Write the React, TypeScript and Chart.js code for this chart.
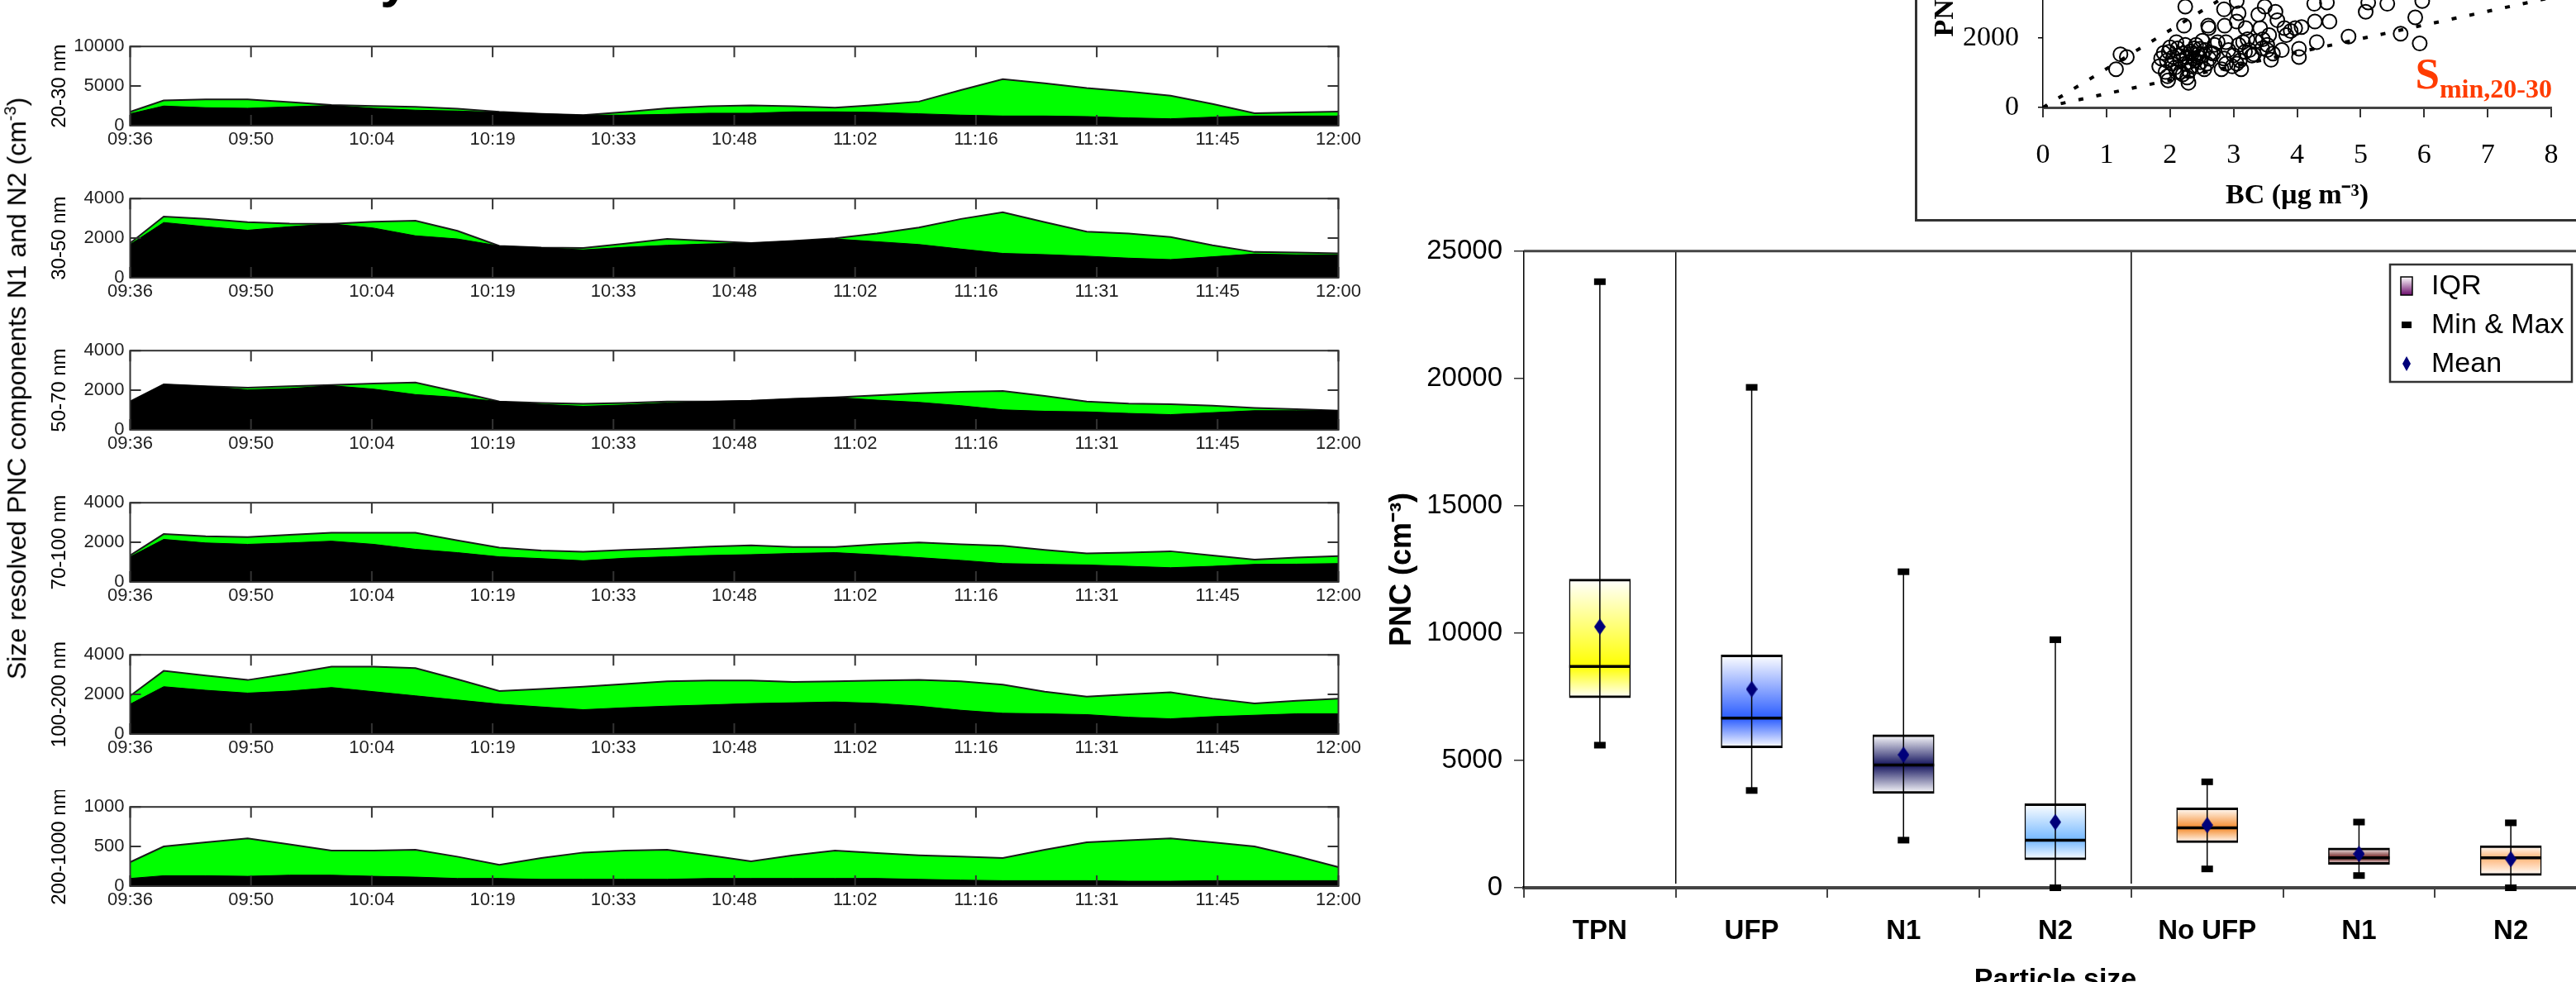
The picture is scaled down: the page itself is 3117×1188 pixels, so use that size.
import React, { useEffect, useRef } from 'react';
import { Chart, registerables } from 'chart.js';

Chart.register(...registerables);
Chart.defaults.font.family = "'Liberation Sans', Arial, sans-serif";
Chart.defaults.color = '#000';

// ---------------- Left panels: size-resolved PNC time series ----------------
// minutes after 09:36
const TIME_MIN = [0, 4, 9, 14, 19, 24, 29, 34, 39, 44, 49, 54, 59, 64, 69, 74, 79, 84, 89, 94, 99, 104, 109, 114, 119, 124, 129, 134, 139, 144];
const X_TICK_LABELS = ['09:36', '09:50', '10:04', '10:19', '10:33', '10:48', '11:02', '11:16', '11:31', '11:45', '12:00'];
const X_TICK_STEP_MIN = 14.4;

const PANEL_LABELS = ['20-30 nm', '30-50 nm', '50-70 nm', '70-100 nm', '100-200 nm', '200-1000 nm'];
const PANEL_YMAX = [10000, 4000, 4000, 4000, 4000, 1000];

// black area = N1 ; green area top = N1 + N2
const N1_20_30 = [1500, 2480, 2270, 2200, 2380, 2550, 2200, 1960, 1850, 1680, 1500, 1330, 1330, 1430, 1570, 1570, 1750, 1750, 1680, 1500, 1330, 1220, 1220, 1150, 980, 870, 1080, 1220, 1220, 1220];
const TOTAL_20_30 = [1750, 3180, 3320, 3320, 2970, 2620, 2480, 2380, 2130, 1750, 1500, 1330, 1710, 2200, 2450, 2550, 2450, 2270, 2620, 3040, 4480, 5870, 5350, 4760, 4300, 3780, 2730, 1570, 1680, 1780];

const N1_30_50 = [1680, 2790, 2580, 2400, 2580, 2720, 2510, 2120, 1960, 1610, 1520, 1410, 1540, 1640, 1710, 1750, 1860, 1960, 1820, 1680, 1450, 1230, 1170, 1090, 990, 920, 1060, 1200, 1160, 1160];
const TOTAL_30_50 = [1750, 3090, 2970, 2810, 2740, 2720, 2830, 2880, 2370, 1610, 1520, 1500, 1720, 1960, 1860, 1750, 1860, 1990, 2230, 2540, 2970, 3310, 2810, 2330, 2230, 2060, 1640, 1300, 1270, 1230];

const N1_50_70 = [1430, 2300, 2200, 2020, 2090, 2230, 2060, 1780, 1640, 1430, 1290, 1190, 1260, 1360, 1430, 1470, 1570, 1640, 1500, 1390, 1220, 1010, 940, 910, 830, 770, 870, 970, 970, 970];
const TOTAL_50_70 = [1430, 2300, 2200, 2130, 2200, 2270, 2340, 2390, 1920, 1430, 1360, 1320, 1360, 1430, 1430, 1470, 1570, 1640, 1740, 1850, 1920, 1960, 1710, 1430, 1330, 1290, 1220, 1110, 1040, 970];

const N1_70_100 = [1270, 2150, 1970, 1900, 1970, 2060, 1900, 1650, 1480, 1270, 1180, 1070, 1200, 1270, 1340, 1380, 1440, 1480, 1370, 1230, 1090, 930, 890, 860, 790, 720, 790, 890, 900, 930];
const TOTAL_70_100 = [1340, 2420, 2310, 2270, 2380, 2480, 2480, 2480, 2100, 1730, 1590, 1520, 1620, 1690, 1790, 1850, 1760, 1760, 1900, 1990, 1900, 1830, 1620, 1440, 1480, 1550, 1340, 1130, 1230, 1300];

const N1_100_200 = [1510, 2390, 2210, 2070, 2170, 2350, 2140, 1930, 1720, 1510, 1370, 1230, 1330, 1410, 1470, 1540, 1580, 1620, 1550, 1410, 1200, 1050, 1020, 980, 850, 770, 880, 950, 1020, 1020];
const TOTAL_100_200 = [1930, 3190, 2950, 2730, 3050, 3400, 3400, 3330, 2770, 2170, 2280, 2390, 2530, 2660, 2700, 2700, 2630, 2660, 2700, 2740, 2660, 2490, 2140, 1890, 2000, 2110, 1790, 1550, 1680, 1790];

const N1_200_1000 = [97, 131, 131, 124, 138, 138, 124, 114, 97, 97, 86, 86, 86, 86, 97, 97, 97, 97, 97, 86, 76, 69, 69, 69, 62, 62, 69, 69, 69, 69];
const TOTAL_200_1000 = [303, 500, 552, 603, 528, 448, 448, 459, 372, 269, 355, 424, 448, 459, 390, 314, 390, 448, 417, 390, 372, 355, 459, 552, 579, 603, 552, 500, 379, 241];

const PANEL_N1 = [N1_20_30, N1_30_50, N1_50_70, N1_70_100, N1_100_200, N1_200_1000];
const PANEL_TOTAL = [TOTAL_20_30, TOTAL_30_50, TOTAL_50_70, TOTAL_70_100, TOTAL_100_200, TOTAL_200_1000];

// ---------------- Box plot ----------------
const BOX_CATEGORIES = ['TPN', 'UFP', 'N1', 'N2', 'No UFP', 'N1', 'N2'];
const BOX_MIN = [5600, 3820, 1870, 0, 740, 480, 0];
const BOX_Q1 = [7460, 5500, 3700, 1100, 1770, 920, 480];
const BOX_MEDIAN = [8690, 6660, 4820, 1870, 2350, 1180, 1180];
const BOX_Q3 = [12120, 9140, 6010, 3300, 3140, 1560, 1650];
const BOX_MAX = [23800, 19650, 12410, 9740, 4160, 2580, 2550];
const BOX_MEAN = [10250, 7800, 5220, 2580, 2460, 1330, 1120];
const BOX_COLORS = ['#ffff00', '#2a5cff', '#14145e', '#74b8ff', '#f58a2a', '#6b1818', '#ffb476'];
const BOX_SEPARATOR_AFTER = [0, 3];
const BOX_LEGEND_LABELS = ['IQR', 'Min & Max', 'Mean'];

// ---------------- Scatter inset ----------------
const SCATTER_BC = [1.15, 1.22, 1.32, 2.24, 2.22, 1.90, 1.86, 1.83, 1.93, 1.97, 2.00, 2.03, 2.14, 2.17, 2.24, 2.27, 2.29, 2.32, 2.37, 2.41, 2.44, 2.47, 2.51, 2.58, 2.61, 2.60, 2.64, 2.75, 2.85, 2.86, 2.88, 2.85, 2.88, 3.05, 3.08, 3.05, 3.08, 3.05, 3.15, 3.19, 3.22, 3.29, 3.32, 3.39, 3.42, 3.46, 3.49, 3.53, 3.56, 3.59, 3.66, 3.69, 3.76, 3.80, 3.83, 3.90, 3.97, 4.03, 4.03, 4.07, 4.27, 4.31, 4.28, 4.47, 4.51, 4.81, 5.08, 5.12, 5.42, 5.63, 5.86, 5.93, 5.97, 2.10, 2.34, 2.44, 2.54, 2.24, 2.51, 2.81, 3.12, 2.98, 3.25, 3.53, 2.10,
  1.95, 1.98, 2.05, 2.08, 2.12, 2.16, 2.20, 2.26, 2.30, 2.35, 2.38, 2.40, 2.45, 2.48, 2.55, 2.62, 2.68, 2.70, 2.92, 3.00, 3.10, 3.18, 3.35, 3.45, 3.62, 1.96, 2.20, 2.30];
const SCATTER_PNC = [1100, 1530, 1450, 2900, 2350, 1570, 1410, 1180, 1020, 780, 1730, 1260, 1490, 1020, 1800, 860, 710, 1610, 1410, 1800, 1180, 1690, 1490, 1260, 2280, 2350, 1570, 1880, 2820, 2350, 1880, 1410, 1260, 3060, 2710, 2470, 1800, 1260, 1880, 2280, 1960, 1490, 1530, 2670, 2280, 1960, 2900, 1800, 2080, 1370, 2750, 2510, 1650, 2280, 2080, 2200, 2280, 1690, 1450, 2310, 2980, 1880, 2470, 3020, 2470, 2040, 2750, 3020, 2980, 2120, 2590, 1840, 3060, 1880, 1180, 1530, 1100, 1260, 1920, 1100, 1100, 1180, 1650, 1650, 1020,
  1350, 1600, 1450, 1150, 1700, 1350, 1550, 1450, 1300, 1550, 1700, 1350, 1450, 1300, 1650, 1400, 1550, 1800, 1650, 1500, 1350, 1600, 1900, 1700, 1550, 900, 950, 1050];
const UPPER_LINE_BC = [0, 7.2];
const UPPER_LINE_PNC = [0, 8000];
const LOWER_LINE_BC = [0, 8];
const LOWER_LINE_PNC = [0, 3160];
const S_LABEL_POS = { bc: 5.86, pnc: 540 };

// ---------------- layout ----------------
const PANEL_TOP = [56, 240, 424, 608, 792, 976];
const PANEL_CANVAS_W = 1665;
const PANEL_PAD_TOP = 20;
const PANEL_PLOT_H = 96;
const PANEL_XAXIS_H = 50;
const PANEL_LEFT_W = 157.5;

const BOX_LEFT = 1590;
const BOX_TOP = 270;
const BOX_W = 1560;
const BOX_H = 960;

const SC_LEFT = 2317;
const SC_TOP = -250;
const SC_W = 820;
const SC_H = 518;

const panelFramePlugin = {
  id: 'panelFrame',
  afterDatasetsDraw(chart: any) {
    const { ctx, chartArea: a, scales } = chart;
    const x = scales.x;
    const y = scales.y;
    ctx.save();
    ctx.strokeStyle = '#333';
    ctx.lineWidth = 2;
    ctx.beginPath();
    x.ticks.forEach((t: any) => {
      const px = x.getPixelForValue(t.value);
      ctx.moveTo(px, a.top);
      ctx.lineTo(px, a.top + 13);
      ctx.moveTo(px, a.bottom);
      ctx.lineTo(px, a.bottom - 13);
    });
    y.ticks.forEach((t: any) => {
      const py = y.getPixelForValue(t.value);
      ctx.moveTo(a.left, py);
      ctx.lineTo(a.left + 13, py);
      ctx.moveTo(a.right, py);
      ctx.lineTo(a.right - 13, py);
    });
    ctx.stroke();
    ctx.strokeRect(a.left, a.top, a.right - a.left, a.bottom - a.top);
    ctx.restore();
  },
};

function makePanel(canvas: HTMLCanvasElement, i: number) {
  const ymax = PANEL_YMAX[i];
  return new Chart(canvas, {
    type: 'line',
    data: {
      datasets: [
        {
          label: 'N1',
          data: TIME_MIN.map((t, k) => ({ x: t, y: PANEL_N1[i][k] })),
          fill: 'origin',
          backgroundColor: '#000000',
          borderColor: '#000000',
          borderWidth: 1,
          pointRadius: 0,
          order: 0,
        },
        {
          label: 'N1 + N2',
          data: TIME_MIN.map((t, k) => ({ x: t, y: PANEL_TOTAL[i][k] })),
          fill: 'origin',
          backgroundColor: '#00ff00',
          borderColor: '#1a1a1a',
          borderWidth: 2,
          pointRadius: 0,
          order: 1,
        },
      ],
    },
    options: {
      responsive: false,
      animation: false,
      events: [],
      devicePixelRatio: 1,
      layout: { padding: { top: PANEL_PAD_TOP, left: 0, right: PANEL_CANVAS_W - 1619.5, bottom: 0 } },
      plugins: { legend: { display: false }, tooltip: { enabled: false } },
      scales: {
        x: {
          type: 'linear',
          min: 0,
          max: 144,
          afterBuildTicks: (s: any) => {
            s.ticks = X_TICK_LABELS.map((_, k) => ({ value: k * X_TICK_STEP_MIN }));
          },
          ticks: {
            callback: (_v: any, idx: number) => X_TICK_LABELS[idx],
            font: { size: 22 },
            color: '#222',
            padding: 4,
            maxRotation: 0,
            autoSkip: false,
          },
          grid: { display: false, drawTicks: false },
          border: { display: false },
          afterFit: (s: any) => { s.height = PANEL_XAXIS_H; },
        },
        y: {
          min: 0,
          max: ymax,
          afterBuildTicks: (s: any) => {
            s.ticks = [0, ymax / 2, ymax].map((v) => ({ value: v }));
          },
          ticks: { callback: (v: any) => String(v), font: { size: 22 }, color: '#222', padding: 7 },
          grid: { display: false, drawTicks: false },
          border: { display: false },
          title: {
            display: true,
            text: PANEL_LABELS[i],
            font: { size: 24 },
            color: '#000',
            padding: { top: 58, bottom: 0 },
          },
          afterFit: (s: any) => { s.width = PANEL_LEFT_W; },
        },
      },
    } as any,
    plugins: [panelFramePlugin],
  });
}

function makeDiamond(w: number, h: number, color: string) {
  const c = document.createElement('canvas');
  c.width = w;
  c.height = h;
  const g = c.getContext('2d')!;
  g.fillStyle = color;
  g.beginPath();
  g.moveTo(w / 2, 0);
  g.lineTo(w, h / 2);
  g.lineTo(w / 2, h);
  g.lineTo(0, h / 2);
  g.closePath();
  g.fill();
  return c;
}

const boxDetailPlugin = {
  id: 'boxDetail',
  beforeDatasetsDraw(chart: any) {
    const { ctx, chartArea: a, scales } = chart;
    const x = scales.x;
    ctx.save();
    ctx.strokeStyle = '#000';
    ctx.lineWidth = 1.5;
    ctx.beginPath();
    BOX_SEPARATOR_AFTER.forEach((k) => {
      const px = (x.getPixelForValue(k) + x.getPixelForValue(k + 1)) / 2;
      ctx.moveTo(px, a.top);
      ctx.lineTo(px, a.bottom - 5);
    });
    ctx.stroke();
    ctx.strokeStyle = '#444';
    ctx.lineWidth = 3;
    ctx.beginPath();
    ctx.moveTo(a.left, a.top);
    ctx.lineTo(a.right, a.top);
    ctx.stroke();
    ctx.restore();
  },
  afterDatasetDraw(chart: any, args: any) {
    if (args.index !== 0) return;
    const { ctx, scales } = chart;
    const x = scales.x;
    const y = scales.y;
    ctx.save();
    ctx.strokeStyle = '#000';
    BOX_CATEGORIES.forEach((_, i) => {
      const px = x.getPixelForValue(i);
      ctx.lineWidth = 1.5;
      ctx.beginPath();
      ctx.moveTo(px, y.getPixelForValue(BOX_MIN[i]));
      ctx.lineTo(px, y.getPixelForValue(BOX_MAX[i]));
      ctx.stroke();
      const pm = y.getPixelForValue(BOX_MEDIAN[i]);
      ctx.lineWidth = 3.5;
      ctx.beginPath();
      ctx.moveTo(px - 37, pm);
      ctx.lineTo(px + 37, pm);
      ctx.stroke();
    });
    ctx.restore();
  },
  afterDraw(chart: any) {
    const { ctx } = chart;
    const lx = 1302;
    const ly = 50;
    const lw = 220;
    const lh = 142;
    ctx.save();
    ctx.fillStyle = '#fff';
    ctx.fillRect(lx, ly, lw, lh);
    ctx.strokeStyle = '#333';
    ctx.lineWidth = 2.5;
    ctx.strokeRect(lx, ly, lw, lh);
    const rows = [ly + 26, ly + 73, ly + 120];
    const ix = lx + 20;
    // IQR icon
    const g = ctx.createLinearGradient(0, rows[0] - 11, 0, rows[0] + 11);
    g.addColorStop(0, '#ffffff');
    g.addColorStop(1, '#6a0a6a');
    ctx.fillStyle = g;
    ctx.fillRect(ix - 7, rows[0] - 11, 14, 22);
    ctx.lineWidth = 1.5;
    ctx.strokeStyle = '#000';
    ctx.strokeRect(ix - 7, rows[0] - 11, 14, 22);
    // min & max icon
    ctx.fillStyle = '#000';
    ctx.fillRect(ix - 6, rows[1] - 4, 12, 8);
    // mean icon
    ctx.fillStyle = '#00007a';
    ctx.beginPath();
    ctx.moveTo(ix, rows[2] - 9);
    ctx.lineTo(ix + 5, rows[2]);
    ctx.lineTo(ix, rows[2] + 9);
    ctx.lineTo(ix - 5, rows[2]);
    ctx.closePath();
    ctx.fill();
    ctx.fillStyle = '#000';
    ctx.font = "34px 'Liberation Sans', Arial, sans-serif";
    ctx.textBaseline = 'middle';
    ctx.textAlign = 'left';
    BOX_LEGEND_LABELS.forEach((t, k) => ctx.fillText(t, lx + 50, rows[k] + 1));
    ctx.restore();
  },
};

function makeBox(canvas: HTMLCanvasElement) {
  const diamond = makeDiamond(14, 20, '#00007a');
  return new Chart(canvas, {
    type: 'bar',
    data: {
      labels: BOX_CATEGORIES,
      datasets: [
        {
          type: 'bar',
          label: 'IQR',
          data: BOX_Q1.map((q, i) => [q, BOX_Q3[i]]),
          backgroundColor: (ctx: any) => {
            const i = ctx.dataIndex;
            const chart = ctx.chart;
            const ys = chart.scales && chart.scales.y;
            if (ctx.type !== 'data' || !ys || !chart.chartArea) return BOX_COLORS[i] || '#fff';
            const yTop = ys.getPixelForValue(BOX_Q3[i]);
            const yBot = ys.getPixelForValue(BOX_Q1[i]);
            const yMed = ys.getPixelForValue(BOX_MEDIAN[i]);
            if (!isFinite(yTop) || !isFinite(yBot) || yBot - yTop < 1) return BOX_COLORS[i];
            const g = chart.ctx.createLinearGradient(0, yTop, 0, yBot);
            const m = Math.min(0.97, Math.max(0.03, (yMed - yTop) / (yBot - yTop)));
            g.addColorStop(0, '#ffffff');
            g.addColorStop(m, BOX_COLORS[i]);
            g.addColorStop(1, '#ffffff');
            return g;
          },
          borderColor: '#000',
          borderWidth: { top: 3, bottom: 3, left: 1.5, right: 1.5 },
          borderSkipped: false,
          barThickness: 74,
          order: 3,
        },
        {
          type: 'line',
          label: 'Max',
          data: BOX_MAX,
          showLine: false,
          pointStyle: 'line',
          pointRadius: 7,
          pointBorderWidth: 8,
          pointBorderColor: '#000',
          order: 2,
          clip: false,
        },
        {
          type: 'line',
          label: 'Min',
          data: BOX_MIN,
          showLine: false,
          pointStyle: 'line',
          pointRadius: 7,
          pointBorderWidth: 8,
          pointBorderColor: '#000',
          order: 2,
          clip: false,
        },
        {
          type: 'line',
          label: 'Mean',
          data: BOX_MEAN,
          showLine: false,
          pointStyle: diamond,
          pointRadius: 8,
          order: 1,
          clip: false,
        },
      ],
    } as any,
    options: {
      responsive: false,
      animation: false,
      events: [],
      devicePixelRatio: 1,
      layout: { padding: { top: 28, left: 0, right: 20, bottom: 0 } },
      plugins: { legend: { display: false }, tooltip: { enabled: false } },
      scales: {
        x: {
          type: 'category',
          offset: true,
          grid: { offset: true, drawOnChartArea: false, drawTicks: true, tickLength: 12, color: '#444', lineWidth: 2 },
          border: { display: true, color: '#444', width: 4 },
          ticks: { font: { size: 33, weight: 'bold' }, color: '#000', padding: 21, maxRotation: 0, autoSkip: false },
          title: { display: true, text: 'Particle size', font: { size: 34, weight: 'bold' }, color: '#000', padding: { top: 0, bottom: 24 } },
          afterFit: (s: any) => { s.height = BOX_H - 804; },
        },
        y: {
          min: 0,
          max: 25000,
          ticks: { stepSize: 5000, callback: (v: any) => String(v), font: { size: 33 }, color: '#000', padding: 14 },
          grid: { drawOnChartArea: false, drawTicks: true, tickLength: 12, color: '#333', lineWidth: 1.5 },
          border: { display: true, color: '#000', width: 1.5 },
          title: { display: true, text: 'PNC (cm⁻³)', font: { size: 36, weight: 'bold' }, color: '#000', padding: { top: 85, bottom: 0 } },
          afterFit: (s: any) => { s.width = 254; },
        },
      },
    } as any,
    plugins: [boxDetailPlugin],
  });
}

const scatterDecorPlugin = {
  id: 'scatterDecor',
  afterDatasetsDraw(chart: any) {
    const { ctx, scales } = chart;
    const px = scales.x.getPixelForValue(S_LABEL_POS.bc);
    const py = scales.y.getPixelForValue(S_LABEL_POS.pnc);
    ctx.save();
    ctx.fillStyle = '#ff3c00';
    ctx.textBaseline = 'alphabetic';
    ctx.textAlign = 'left';
    ctx.font = "bold 53px 'Liberation Serif', 'Times New Roman', serif";
    ctx.fillText('S', px, py);
    const w = ctx.measureText('S').width;
    ctx.font = "bold 32px 'Liberation Serif', 'Times New Roman', serif";
    ctx.fillText('min,20-30', px + w, py + 11);
    ctx.restore();
  },
  afterDraw(chart: any) {
    const { ctx, width, height } = chart;
    ctx.save();
    ctx.strokeStyle = '#333';
    ctx.lineWidth = 3;
    ctx.beginPath();
    ctx.moveTo(1.5, 0);
    ctx.lineTo(1.5, height - 1.5);
    ctx.lineTo(width, height - 1.5);
    ctx.stroke();
    ctx.restore();
  },
};

function makeScatter(canvas: HTMLCanvasElement) {
  const serif = "'Liberation Serif', 'Times New Roman', serif";
  return new Chart(canvas, {
    type: 'scatter',
    data: {
      datasets: [
        {
          label: 'PNC vs BC',
          data: SCATTER_BC.map((x, i) => ({ x, y: SCATTER_PNC[i] })),
          pointStyle: 'circle',
          pointRadius: 8.5,
          pointBorderWidth: 2,
          pointBorderColor: '#000',
          pointBackgroundColor: 'rgba(0,0,0,0)',
          order: 2,
        },
        {
          type: 'line',
          label: 'S max',
          data: UPPER_LINE_BC.map((x, i) => ({ x, y: UPPER_LINE_PNC[i] })),
          borderColor: '#000',
          borderWidth: 4,
          borderDash: [6, 16],
          pointRadius: 0,
          fill: false,
          order: 1,
        },
        {
          type: 'line',
          label: 'S min',
          data: LOWER_LINE_BC.map((x, i) => ({ x, y: LOWER_LINE_PNC[i] })),
          borderColor: '#000',
          borderWidth: 4,
          borderDash: [6, 16],
          pointRadius: 0,
          fill: false,
          order: 1,
        },
      ],
    } as any,
    options: {
      responsive: false,
      animation: false,
      events: [],
      devicePixelRatio: 1,
      layout: { padding: { top: 40, left: 0, right: 50, bottom: 0 } },
      plugins: { legend: { display: false }, tooltip: { enabled: false } },
      scales: {
        x: {
          type: 'linear',
          min: 0,
          max: 8,
          ticks: { stepSize: 1, font: { size: 34, family: serif }, color: '#000', padding: 26 },
          grid: { drawOnChartArea: false, drawTicks: true, tickLength: 12, color: '#333', lineWidth: 2 },
          border: { display: true, color: '#444', width: 3 },
          title: { display: true, text: 'BC (µg m⁻³)', font: { size: 34, weight: 'bold', family: serif }, color: '#000', padding: { top: 0, bottom: 10 } },
          afterFit: (s: any) => { s.height = SC_H - 380; },
        },
        y: {
          min: 0,
          max: 8000,
          ticks: { stepSize: 2000, callback: (v: any) => String(v), font: { size: 34, family: serif }, color: '#000', padding: 23 },
          grid: { drawOnChartArea: false, drawTicks: true, tickLength: 6, color: '#000', lineWidth: 1.5 },
          border: { display: true, color: '#000', width: 1.5 },
          title: { display: true, text: 'PNC (cm⁻³)', font: { size: 34, weight: 'bold', family: serif }, color: '#000', padding: { top: 17, bottom: 0 } },
          afterFit: (s: any) => { s.width = 155; },
        },
      },
    } as any,
    plugins: [scatterDecorPlugin],
  });
}

export default function App() {
  const panelRefs = useRef<(HTMLCanvasElement | null)[]>([]);
  const boxRef = useRef<HTMLCanvasElement | null>(null);
  const scatterRef = useRef<HTMLCanvasElement | null>(null);

  useEffect(() => {
    const charts: Chart[] = [];
    PANEL_LABELS.forEach((_, i) => {
      const c = panelRefs.current[i];
      if (c) charts.push(makePanel(c, i));
    });
    if (boxRef.current) charts.push(makeBox(boxRef.current));
    if (scatterRef.current) charts.push(makeScatter(scatterRef.current));
    return () => charts.forEach((c) => c.destroy());
  }, []);

  const panelH = PANEL_PAD_TOP + PANEL_PLOT_H + PANEL_XAXIS_H;

  return (
    <div
      style={{
        position: 'fixed',
        left: 0,
        top: 0,
        width: 3117,
        height: 1188,
        overflow: 'hidden',
        background: '#fff',
      }}
    >
      {PANEL_LABELS.map((_, i) => (
        <canvas
          key={i}
          ref={(el) => { panelRefs.current[i] = el; }}
          width={PANEL_CANVAS_W}
          height={panelH}
          style={{ position: 'absolute', left: 0, top: PANEL_TOP[i] - PANEL_PAD_TOP, width: PANEL_CANVAS_W, height: panelH }}
        />
      ))}
      <div
        style={{
          position: 'absolute',
          left: 20,
          top: 470,
          transform: 'translate(-50%, -50%) rotate(-90deg)',
          whiteSpace: 'nowrap',
          fontFamily: "'Liberation Sans', Arial, sans-serif",
          fontSize: 32,
          color: '#000',
        }}
      >
        Size resolved PNC components N1 and N2 (cm<sup style={{ fontSize: 20 }}>-3</sup>)
      </div>
      <div
        style={{
          position: 'absolute',
          left: 460,
          top: -58,
          fontFamily: "'Liberation Sans', Arial, sans-serif",
          fontWeight: 'bold',
          fontSize: 64,
          lineHeight: '64px',
          color: '#000',
        }}
      >
        y
      </div>
      <canvas
        ref={boxRef}
        width={BOX_W}
        height={BOX_H}
        style={{ position: 'absolute', left: BOX_LEFT, top: BOX_TOP, width: BOX_W, height: BOX_H }}
      />
      <canvas
        ref={scatterRef}
        width={SC_W}
        height={SC_H}
        style={{ position: 'absolute', left: SC_LEFT, top: SC_TOP, width: SC_W, height: SC_H }}
      />
    </div>
  );
}
